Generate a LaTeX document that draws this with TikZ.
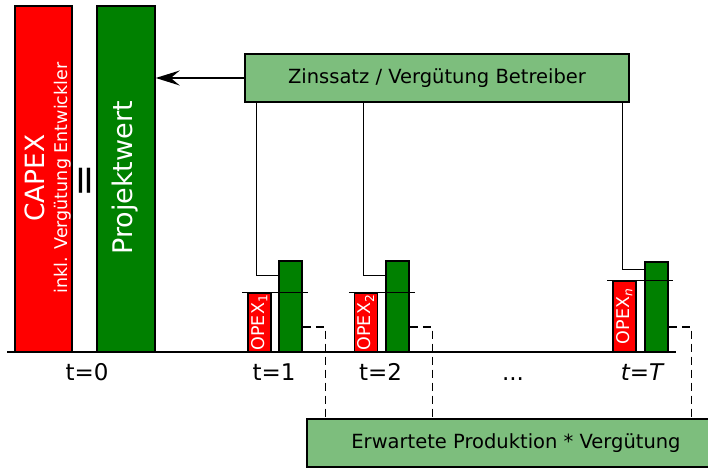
\documentclass[tikz,border=0pt]{standalone}
\usepackage{fontspec}
\setmainfont{DejaVu Sans}
\usetikzlibrary{arrows.meta}
\definecolor{barred}{RGB}{255,0,0}
\definecolor{bargreen}{RGB}{0,128,0}
\definecolor{boxgreen}{RGB}{125,190,125}
\begin{document}
\begin{tikzpicture}[x=1pt,y=-1pt,
  line width=1.5pt,
  bar/.style={draw=black, inner sep=0pt, anchor=center},
  redbar/.style={bar, fill=barred},
  greenbar/.style={bar, fill=bargreen},
  infobox/.style={draw=black, fill=boxgreen, inner sep=0pt, font=\fontsize{19.5}{22}\selectfont},
  bartext/.style={rotate=90, text=white, inner sep=0pt},
  opextext/.style={bartext, font=\fontsize{17.5}{19}\selectfont},
  tlabel/.style={font=\fontsize{23}{26}\selectfont, inner sep=0pt, anchor=base},
  feed/.style={line width=1.5pt},
  yield/.style={line width=1.5pt, dash pattern=on 8pt off 5pt}]
\clip (0,0) rectangle (708,468);

% investment at t=0
\node[redbar, minimum width=57pt, minimum height=346pt] (capex) at (43.5,179) {};
\node[greenbar, minimum width=58pt, minimum height=346pt] (proj) at (126,179) {};
\node[bartext, font=\fontsize{26.5}{28}\selectfont] (capext) at (35,178) {CAPEX};
\node[bartext, font=\fontsize{17.5}{19}\selectfont] (inkl) at (63,178) {inkl. Vergütung Entwickler};
\node[bartext, font=\fontsize{27}{30}\selectfont] (projt) at (125,178) {Projektwert};
\node[rotate=90, inner sep=0pt, font=\fontsize{40}{42}\selectfont] (eq) at (88,181) {=};

% yearly periods
\node[redbar, minimum width=23pt, minimum height=59pt] (o1) at (259.5,322.5) {};
\node[greenbar, minimum width=23pt, minimum height=91pt] (g1) at (290.5,306.5) {};
\node[redbar, minimum width=23pt, minimum height=59pt] (o2) at (366,322.5) {};
\node[greenbar, minimum width=23pt, minimum height=91pt] (g2) at (397.5,306.5) {};
\node[redbar, minimum width=23pt, minimum height=71pt] (oT) at (624.5,316.5) {};
\node[greenbar, minimum width=23pt, minimum height=90pt] (gT) at (656.5,307) {};

\node[opextext] at (o1.center) {OPEX\textsubscript{1}};
\node[opextext] at (o2.center) {OPEX\textsubscript{2}};
\node[opextext] at (oT.center) {OPEX\textsubscript{\itshape n}};

% level marks over the operating costs
\draw ([xshift=-5pt]o1.north west) -- ([xshift=5pt]g1.east |- o1.north);
\draw ([xshift=-5pt]o2.north west) -- ([xshift=5pt]g2.east |- o2.north);
\draw ([xshift=-5pt]oT.north west) -- ([xshift=4pt]gT.east |- oT.north);

% time axis
\coordinate (axL) at (7,352);
\coordinate (axR) at (676,352);
\draw (axL) -- (axR);

\node[tlabel] (t0) at (87,380) {t=0};
\node[tlabel] (t1) at (274,380) {t=1};
\node[tlabel] (t2) at (380.5,380) {t=2};
\node[tlabel] (tdots) at (513,380) {...};
\node[tlabel] (tT) at (642,380) {{\itshape t}={\itshape T}};

% interest rate / operator compensation
\node[infobox, minimum width=384pt, minimum height=48pt] (zins) at (437,78) {Zinssatz / Vergütung Betreiber};
\draw[-{Stealth[length=24pt,width=15pt,inset=9pt]}] (zins.west) -- (zins.west -| proj.east);
\draw[feed] ([xshift=12pt]zins.south west) |- ([yshift=-15pt]g1.north west);
\draw[feed] ([xshift=119pt]zins.south west) |- ([yshift=-15pt]g2.north west);
\draw[feed] ([xshift=378pt]zins.south west) |- ([yshift=-8pt]gT.north west);

% expected production
\node[infobox, minimum width=418pt, minimum height=48pt] (prod) at (516,443) {Erwartete Produktion * Vergütung};
\draw[yield] ([yshift=-20.5pt]g1.east) -| ([xshift=19pt]prod.north west);
\draw[yield] ([yshift=-20.5pt]g2.east) -| ([xshift=126pt]prod.north west);
\draw[yield] ([yshift=-20pt]gT.east) -| ([xshift=385pt]prod.north west);
\end{tikzpicture}
\end{document}
